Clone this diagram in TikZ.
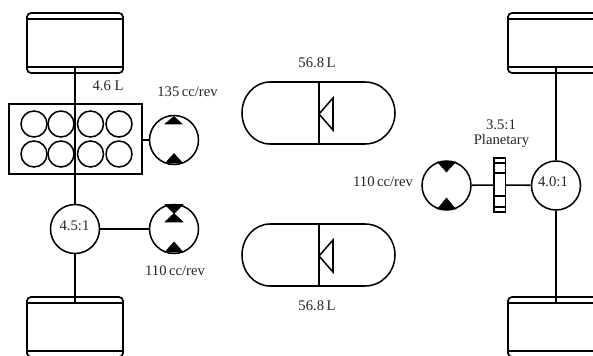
\documentclass[tikz,border=0pt]{standalone}
\usepackage{fontspec}
\setmainfont{Liberation Serif}
\tikzset{
  px/.style={x=0.75pt,y=-0.75pt},
  ln/.style={line width=1.15pt,black},
  wh/.style={line width=1.25pt,black},
  disc/.style={circle,draw,line width=1.15pt,minimum size=36.75pt,inner sep=0pt,fill=white},
  cyl/.style={circle,draw,line width=1.15pt,minimum size=19.5pt,inner sep=0pt},
  lab/.style={inner sep=0pt,font=\fontsize{11}{12}\selectfont,text=black!85},
  tip/.style={fill=black,draw=black,line width=0.4pt},
}
\begin{document}
\begin{tikzpicture}[px]
\useasboundingbox (0,0) rectangle (593,356);
\fill[white] (0,0) rectangle (593,356);
% wheels
\newcommand{\wheel}[3]{%
  \draw[wh] (#1,#2+3) -- (#1,#3-3);
  \draw[wh] (#1+96,#2+3) -- (#1+96,#3-3);
  \draw[wh] (#1,#2+4) to[out=90,in=180] (#1+4,#2) -- (#1+92,#2) to[out=0,in=90] (#1+96,#2+4);
  \draw[wh] (#1,#3-4) to[out=-90,in=180] (#1+4,#3) -- (#1+92,#3) to[out=0,in=-90] (#1+96,#3-4);
  \draw[wh] (#1,#2+6) -- (#1+96,#2+6);
  \draw[wh] (#1,#3-6) -- (#1+96,#3-6);
}
\wheel{27}{13}{73}
\wheel{27}{297}{357}
\wheel{508}{13}{73}
\wheel{508}{297}{357}
% nodes
\node[disc] (g1) at (75,229) {};
\node[disc] (g2) at (556,185.5) {};
\node[disc] (p1) at (174,140) {};
\node[disc] (p2) at (174,229) {};
\node[disc] (m1) at (446.5,185.5) {};
\coordinate (lt) at (75,67);
\coordinate (lb) at (75,303);
\coordinate (rt) at (556,67);
\coordinate (rb) at (556,303);
\node[draw,line width=1.15pt,minimum width=99.75pt,minimum height=52.5pt,inner sep=0pt] (eng) at (75.5,139) {};
\draw[ln] (lt) -- (g1);
\draw[ln] (g1) -- (lb);
\draw[ln] (rt) -- (g2);
\draw[ln] (g2) -- (rb);
\draw[ln] (eng.east|-p1) -- (p1);
\draw[ln] (g1) -- (p2);
% cylinders
\foreach \x/\y/\n in {34/124/a,61/124/b,90.5/124/c,119/124/d,34/154/e,61/154/f,90.5/154/g,119/154/h}
  \node[cyl] (c\n) at (\x,\y) {};
% pump tips
\fill[tip] (174,116.5) -- (182,124) -- (165,124) -- cycle;
\fill[tip] (174,153.5) -- (182.5,163) -- (165.5,163) -- cycle;
\fill[tip] (165,204.5) -- (183,204.5) -- (174,213.5) -- (183,222) -- (165,222) -- (174,213.5) -- cycle;
\fill[tip] (174,242) -- (183,252) -- (165,252) -- cycle;
\fill[tip] (437.5,162) -- (455.5,162) -- (446.5,172) -- cycle;
\fill[tip] (446.5,198) -- (455.5,209) -- (437.5,209) -- cycle;
% planetary
\node[draw,line width=1.15pt,minimum width=7.5pt,minimum height=39pt,inner sep=0pt,fill=white] (pl) at (499.5,185) {};
\draw[ln] (m1) -- (pl);
\draw[ln] (pl) -- (g2);
\fill[white] (pl.north west) rectangle (pl.south east);
\draw[ln] (pl.north west) rectangle (pl.south east);
\foreach \yy in {163,173,196,207}
  \draw[ln] (pl.west|-0,\yy) -- (pl.east|-0,\yy);
% tanks
\foreach \yy/\nm in {82/a,224/b}{
  \draw[ln] (270,\yy) -- (365,\yy);
  \draw[ln] (270,\yy+62) -- (365,\yy+62);
  \draw[ln] (270,\yy) arc[start angle=-90,end angle=-270,x radius=28,y radius=31];
  \draw[ln] (365,\yy) arc[start angle=-90,end angle=90,x radius=30,y radius=31];
  \draw[ln] (319,\yy) -- (319,\yy+62);
  \draw[ln,line join=miter] (319,\yy+32) -- (333,\yy+16) -- (333,\yy+48) -- cycle;
}
% labels
\node[lab] (t1) at (108,85.5) {4.6 L};
\node[lab] (t2) at (187.5,92) {135\,cc/rev};
\node[lab] (t3) at (74.5,226) {4.5:1};
\node[lab] (t4) at (175,270.5) {110\,cc/rev};
\node[lab] (t5) at (317,62.5) {56.8\,L};
\node[lab] (t6) at (317,305.5) {56.8\,L};
\node[lab] (t7) at (501,125) {3.5:1};
\node[lab] (t8) at (501.5,141) {Planetary};
\node[lab] (t9) at (383,182) {110\,cc/rev};
\node[lab] (t10) at (553,182) {4.0:1};
\end{tikzpicture}
\end{document}
